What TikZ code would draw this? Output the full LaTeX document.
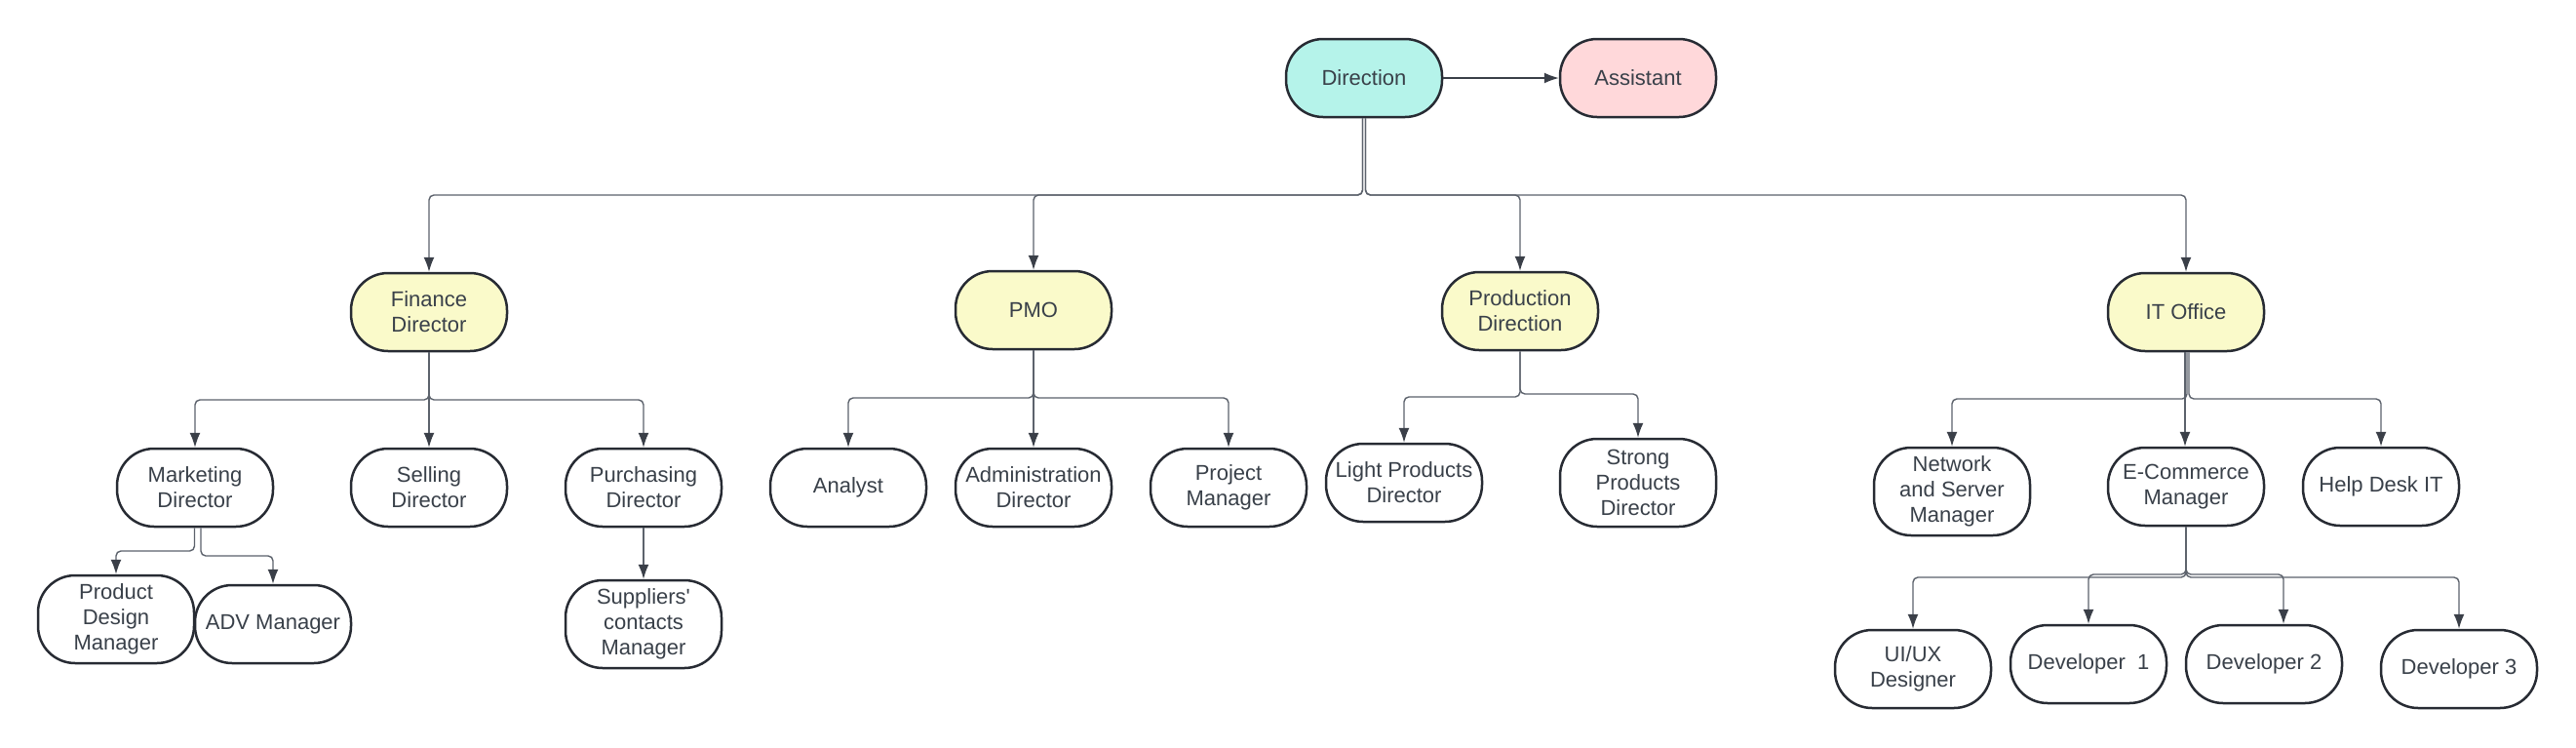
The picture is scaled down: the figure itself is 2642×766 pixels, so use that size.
\documentclass[tikz,border=0pt]{standalone}
\usepackage{fontspec}
\setmainfont{Liberation Sans}
\usetikzlibrary{arrows.meta}
\definecolor{txt}{HTML}{394049}
\definecolor{bord}{HTML}{272B33}
\definecolor{lnc}{HTML}{5C626C}
\definecolor{tipc}{HTML}{3A3F48}
\definecolor{cyanf}{HTML}{B5F3EA}
\definecolor{pinkf}{HTML}{FFD8DA}
\definecolor{yelf}{HTML}{FAFACA}
\begin{document}
\begin{tikzpicture}[x=1pt,y=-1pt,
  box/.style={draw=bord, line width=2.5pt, fill=white, rounded corners=38pt,
    minimum width=160pt, minimum height=80pt, inner sep=0pt, align=center,
    text=txt, font=\fontsize{22}{26}\selectfont},
  tall/.style={minimum height=90pt},
  conn/.style={draw=lnc, line width=1.4pt, rounded corners=5pt,
    -{Latex[length=15pt,width=11pt,color=tipc]}},
]
\fill[white] (0,0) rectangle (2642,766);
\useasboundingbox (0,0) rectangle (2642,766);

% nodes
\node[box, fill=cyanf] (dir) at (1399,80) {Direction};
\node[box, fill=pinkf] (asst) at (1680,80) {Assistant};
\node[box, fill=yelf] (fin) at (440,320) {Finance\\Director};
\node[box, fill=yelf] (pmo) at (1060,318) {PMO};
\node[box, fill=yelf] (prod) at (1559,319) {Production\\Direction};
\node[box, fill=yelf] (it) at (2242,320) {IT Office};
\node[box] (mkt) at (200,500) {Marketing\\Director};
\node[box] (sell) at (440,500) {Selling\\Director};
\node[box] (purch) at (660,500) {Purchasing\\Director};
\node[box, tall] (pdm) at (119,635) {Product\\Design\\Manager};
\node[box] (adv) at (280,640) {ADV Manager};
\node[box, tall] (sup) at (660,640) {Suppliers\textquotesingle\\contacts\\Manager};
\node[box] (ana) at (870,500) {Analyst};
\node[box] (adm) at (1060,500) {Administration\\Director};
\node[box] (pm) at (1260,500) {Project\\Manager};
\node[box] (light) at (1440,495) {Light Products\\Director};
\node[box, tall] (strong) at (1680,495) {Strong\\Products\\Director};
\node[box, tall] (net) at (2002,504) {Network\\and Server\\Manager};
\node[box] (ec) at (2242,499) {E-Commerce\\Manager};
\node[box] (help) at (2442,499) {Help Desk IT};
\node[box] (ui) at (1962,686) {UI/UX\\Designer};
\node[box] (dev1) at (2142,681) {Developer~~1};
\node[box] (dev2) at (2322,681) {Developer 2};
\node[box] (dev3) at (2522,686) {Developer 3};

% bus levels
\coordinate (yD) at (0,200);
\coordinate (yF) at (0,410);
\coordinate (yP) at (0,408);
\coordinate (yPrL) at (0,407);
\coordinate (yPrR) at (0,404);
\coordinate (yIT) at (0,409);
\coordinate (yM1) at (0,565);
\coordinate (yM2) at (0,570);
\coordinate (yE1) at (0,592);
\coordinate (yE2) at (0,589);
\coordinate (d2a) at ([xshift=20pt]dev2.north);

% connectors
\draw[draw=tipc, line width=1.4pt, -{Latex[length=15pt,width=11pt,color=tipc]}] (dir.east) -- (asst.west);
\draw[conn] ([xshift=-1.5pt]dir.south) |- (fin.north |- yD) -- (fin.north);
\draw[conn] ([xshift=-1.5pt]dir.south) |- (pmo.north |- yD) -- (pmo.north);
\draw[conn] ([xshift=1.5pt]dir.south) |- (prod.north |- yD) -- (prod.north);
\draw[conn] ([xshift=1.5pt]dir.south) |- (it.north |- yD) -- (it.north);

\draw[conn] (fin.south) |- (mkt.north |- yF) -- (mkt.north);
\draw[conn] (fin.south) -- (sell.north);
\draw[conn] (fin.south) |- (purch.north |- yF) -- (purch.north);
\draw[conn] ([xshift=-0.5pt]mkt.south) |- (pdm.north |- yM1) -- (pdm.north);
\draw[conn] ([xshift=6pt]mkt.south) |- (adv.north |- yM2) -- (adv.north);
\draw[conn] (purch.south) -- (sup.north);

\draw[conn] (pmo.south) |- (ana.north |- yP) -- (ana.north);
\draw[conn] (pmo.south) -- (adm.north);
\draw[conn] (pmo.south) |- (pm.north |- yP) -- (pm.north);

\draw[conn] (prod.south) |- (light.north |- yPrL) -- (light.north);
\draw[conn] (prod.south) |- (strong.north |- yPrR) -- (strong.north);

\draw[conn] ([xshift=1pt]it.south) |- (net.north |- yIT) -- (net.north);
\draw[conn] ([xshift=-1pt]it.south) -- ([xshift=-1pt]ec.north);
\draw[conn] ([xshift=3pt]it.south) |- (help.north |- yIT) -- (help.north);

\draw[conn] (ec.south) |- (ui.north |- yE1) -- (ui.north);
\draw[conn] (ec.south) |- (dev1.north |- yE2) -- (dev1.north);
\draw[conn] (ec.south) |- (d2a |- yE2) -- (d2a);
\draw[conn] (ec.south) |- (dev3.north |- yE1) -- (dev3.north);
\end{tikzpicture}
\end{document}
